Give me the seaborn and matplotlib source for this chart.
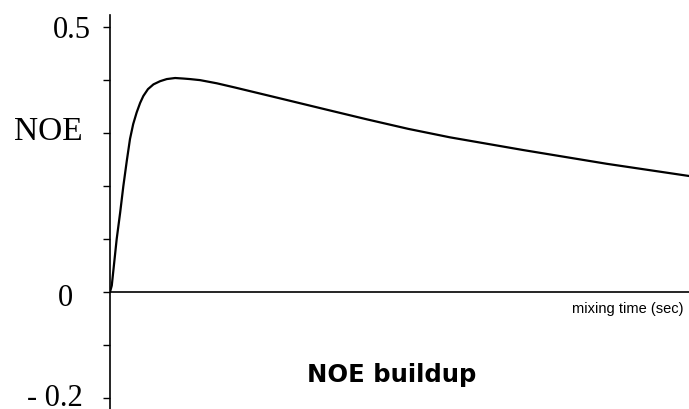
import matplotlib
matplotlib.use("Agg")
from matplotlib import pyplot as plt
import seaborn as sns
import pandas as pd

# mixing time (sec) and NOE values
mixing_time = [0.0, 0.006, 0.023, 0.035, 0.046, 0.058, 0.069, 0.080, 0.092, 0.104,
               0.115, 0.131, 0.150, 0.173, 0.196, 0.225, 0.253, 0.276, 0.311, 0.369,
               0.432, 0.599, 0.750, 0.887, 1.030, 1.174, 1.427, 1.716, 2.0]
noe = [0.0, 0.012, 0.10, 0.15, 0.20, 0.248, 0.289, 0.317, 0.339, 0.357,
       0.370, 0.383, 0.392, 0.398, 0.402, 0.404, 0.403, 0.402, 0.400, 0.394,
       0.386, 0.364, 0.344, 0.326, 0.308, 0.292, 0.268, 0.242, 0.219]

y_ticks = [-0.2, -0.1, 0.0, 0.1, 0.2, 0.3, 0.4, 0.5]
# labelled ticks
label_values = [0.5, 0.3, 0.0, -0.2]
label_texts = ['0.5', 'NOE', '0', '- 0.2']

df = pd.DataFrame({'t': mixing_time, 'noe': noe})

sns.set_style('white')
plt.rcParams['font.family'] = ['DejaVu Sans']

fig = plt.figure(figsize=(6.89, 4.10), dpi=100)
ax = fig.add_axes([0.1597, 0.0, 0.8403, 0.961])

sns.lineplot(data=df, x='t', y='noe', color='black', linewidth=1.6, ax=ax)
ax.axhline(0, color='black', linewidth=1.2)

ax.set_xlim(0, 2.0)
ax.set_ylim(-0.221, 0.523)

for side in ['top', 'right', 'bottom']:
    ax.spines[side].set_visible(False)
ax.spines['left'].set_color('black')
ax.spines['left'].set_linewidth(1.2)

ax.set_xticks([])
ax.set_yticks(y_ticks)
ax.set_yticklabels([''] * len(y_ticks))
ax.tick_params(axis='y', direction='out', length=5, width=1.0, color='black', left=True)
ax.set_xlabel('')
ax.set_ylabel('')

# hand-placed tick labels, like the original drawing
offsets = [(-13.7, -1.8), (-20, 1.5), (-26.6, -3.8), (-20, 0.5)]
sizes = [22, 24, 22, 22]
for val, txt, (dx, dy), fs in zip(label_values, label_texts, offsets, sizes):
    ax.annotate(txt, xy=(0, val), xycoords=ax.get_yaxis_transform(),
                xytext=(dx, dy), textcoords='offset points',
                ha='right', va='center', fontsize=fs,
                family='Liberation Serif', color='black', annotation_clip=False)

ax.text(0.99, -0.03, 'mixing time (sec)', transform=ax.get_yaxis_transform(),
        ha='right', va='center', fontsize=10.5, family='Liberation Sans', color='black')
fig.text(0.569, 0.085, 'NOE buildup', ha='center', va='center',
         fontsize=17.5, fontweight='bold', color='black')

fig.savefig('out.png', dpi=100)
